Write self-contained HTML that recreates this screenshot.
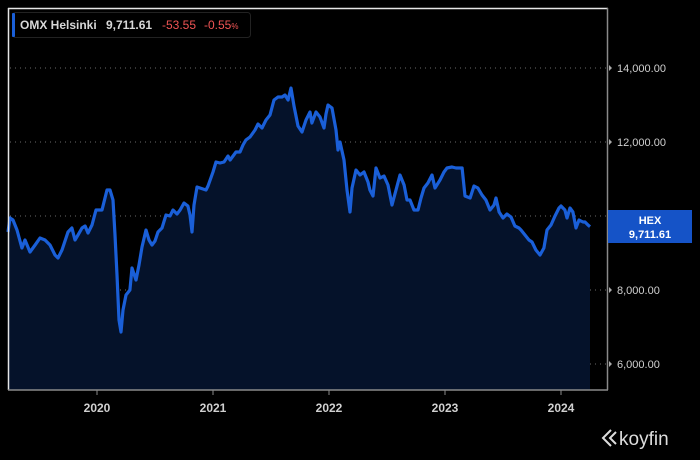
<!DOCTYPE html>
<html><head><meta charset="utf-8"><style>
body{margin:0;background:#000;width:700px;height:460px;overflow:hidden;font-family:"Liberation Sans",sans-serif}
svg{display:block}
</style></head><body>
<svg id="chart" width="700" height="460" viewBox="0 0 700 460">
<rect width="700" height="460" fill="#000"/>
<g id="grid"></g>
<path id="area" fill="#05122a"/>
<path id="line" fill="none" stroke="#1a5fd8" stroke-width="3.2" stroke-linejoin="round"/>
<line x1="8" y1="8.5" x2="608" y2="8.5" stroke="#e6e6e6" stroke-width="1.5"/>
<line x1="8.5" y1="8" x2="8.5" y2="390" stroke="#e6e6e6" stroke-width="1.5"/>
<line x1="607.5" y1="8" x2="607.5" y2="390" stroke="#8a8a8a" stroke-width="1.5"/>
<line x1="8" y1="390" x2="608" y2="390" stroke="#8a8a8a" stroke-width="1.5"/>
<g id="yticks"></g>
<g id="xticks"></g>
<g>
<rect x="608" y="210" width="84" height="33" fill="#1553c7"/>
<text x="650" y="224" text-anchor="middle" fill="#fff" font-size="11" font-weight="bold">HEX</text>
<text x="650" y="238" text-anchor="middle" fill="#fff" font-size="11" font-weight="bold">9,711.61</text>
</g>
<g>
<rect x="12.5" y="12.5" width="238" height="25" rx="3" fill="#000" stroke="#222"/>
<rect x="12" y="13" width="3" height="24" rx="1" fill="#1a5fd8"/>
<text x="20" y="29" font-size="12" font-weight="bold" fill="#d8d8d8">OMX Helsinki</text>
<text x="106" y="29" font-size="12" font-weight="bold" fill="#d8d8d8">9,711.61</text>
<text x="162" y="29" font-size="12" fill="#f05454">-53.55</text>
<text x="204" y="29" font-size="12" fill="#f05454">-0.55<tspan font-size="8">%</tspan></text>
</g>
<g>
<path d="M611 430 l-8 8 l8 8 M616 432 l-6 6 l6 6" fill="none" stroke="#ddd" stroke-width="2"/>
<text x="619" y="445" font-size="19" fill="#ddd">koyfin</text>
</g>
</svg>
<script>
const dates=[2019.233,2019.250,2019.276,2019.310,2019.353,2019.379,2019.422,2019.466,2019.509,2019.552,2019.595,2019.638,2019.664,2019.698,2019.750,2019.784,2019.810,2019.836,2019.871,2019.897,2019.922,2019.957,2019.991,2020.043,2020.086,2020.112,2020.138,2020.155,2020.172,2020.190,2020.207,2020.224,2020.250,2020.284,2020.302,2020.336,2020.362,2020.388,2020.422,2020.448,2020.474,2020.500,2020.526,2020.560,2020.595,2020.629,2020.655,2020.690,2020.716,2020.750,2020.784,2020.802,2020.819,2020.836,2020.862,2020.888,2020.940,2020.957,2021.000,2021.026,2021.060,2021.095,2021.129,2021.147,2021.198,2021.233,2021.259,2021.284,2021.319,2021.362,2021.388,2021.422,2021.457,2021.491,2021.526,2021.560,2021.595,2021.621,2021.647,2021.672,2021.698,2021.733,2021.767,2021.802,2021.836,2021.853,2021.888,2021.922,2021.957,2021.974,2021.991,2022.026,2022.060,2022.078,2022.095,2022.129,2022.155,2022.181,2022.198,2022.233,2022.267,2022.302,2022.336,2022.353,2022.379,2022.405,2022.440,2022.474,2022.509,2022.543,2022.578,2022.612,2022.647,2022.672,2022.698,2022.733,2022.767,2022.793,2022.819,2022.853,2022.888,2022.914,2022.957,2022.991,2023.017,2023.060,2023.095,2023.147,2023.172,2023.216,2023.250,2023.284,2023.319,2023.353,2023.388,2023.422,2023.440,2023.466,2023.500,2023.534,2023.569,2023.603,2023.638,2023.655,2023.690,2023.724,2023.750,2023.784,2023.819,2023.853,2023.879,2023.914,2023.948,2023.983,2024.000,2024.034,2024.052,2024.078,2024.103,2024.129,2024.155,2024.190,2024.207,2024.233,2024.250];
const values=[9568,9946,9892,9622,9135,9351,9027,9216,9405,9351,9216,8946,8865,9081,9568,9676,9351,9486,9676,9730,9540,9757,10162,10162,10703,10703,10432,9486,8405,7189,6865,7459,7865,8000,8594,8270,8676,9162,9622,9351,9216,9324,9568,9676,10027,10000,10162,10054,10162,10351,10270,10027,9568,10297,10784,10757,10703,10811,11189,11460,11433,11460,11622,11514,11730,11730,11919,12054,12135,12325,12487,12379,12595,12730,13135,13217,13217,13271,13135,13460,12973,12433,12271,12595,12811,12514,12811,12676,12379,12757,13000,12919,12325,11784,12000,11514,10703,10108,10757,11243,11108,11189,10919,10703,10541,11297,11027,11081,10838,10297,10703,11108,10838,10432,10432,10162,10162,10487,10757,10892,11108,10757,10973,11189,11297,11325,11297,11297,10541,10487,10811,10757,10568,10432,10162,10297,10487,10108,9946,10054,9973,9730,9676,9622,9486,9351,9297,9081,8946,9135,9622,9757,10000,10216,10270,10162,9946,10216,10108,9676,9892,9838,9838,9757,9711.61];
const yTicks=[6000,8000,10000,12000,14000];
const yTickLabels=["6,000.00","8,000.00","10,000.00","12,000.00","14,000.00"];
const xTicks=[2020,2021,2022,2023,2024];
const xTickLabels=["2020","2021","2022","2023","2024"];
const NS="http://www.w3.org/2000/svg";
function xs(t){return 97+(t-2020)*116;}
function ys(v){return 216-(v-10000)*0.037;}
function mk(tag,attrs,parent){const e=document.createElementNS(NS,tag);for(const k in attrs)e.setAttribute(k,attrs[k]);parent.appendChild(e);return e;}
const grid=document.getElementById('grid'),yt=document.getElementById('yticks'),xt=document.getElementById('xticks');
yTicks.forEach((v,i)=>{
 const y=ys(v);
 const g=mk('line',{x1:10,x2:606,y1:y,y2:y,stroke:'#6a6a6a','stroke-width':1,'stroke-dasharray':'1 4'},grid);
 
 
 const tri=mk('path',{d:`M609 ${y-3} L612 ${y} L609 ${y+3}Z`,fill:'#aaa'},yt);
 
 
 const t=mk('text',{x:617,y:y+4,fill:'#d0d0d0','font-size':11},yt);
 t.textContent=yTickLabels[i];
 
 
});
xTicks.forEach((v,i)=>{
 const x=xs(v);
 const l=mk('line',{x1:x,x2:x,y1:390,y2:395,stroke:'#8a8a8a','stroke-width':1},xt);
 
 
 const t=mk('text',{x:x,y:412,fill:'#d0d0d0','font-size':12,'font-weight':'bold','text-anchor':'middle'},xt);
 t.textContent=xTickLabels[i];
 
 
});
let d='';
dates.forEach((t,i)=>{d+=(i?'L':'M')+xs(t).toFixed(1)+' '+ys(values[i]).toFixed(1);});
document.getElementById('line').setAttribute('d',d);
document.getElementById('area').setAttribute('d',d+`L${xs(dates[dates.length-1]).toFixed(1)} 390 L${xs(dates[0]).toFixed(1)} 390Z`);
</script>
</body></html>
